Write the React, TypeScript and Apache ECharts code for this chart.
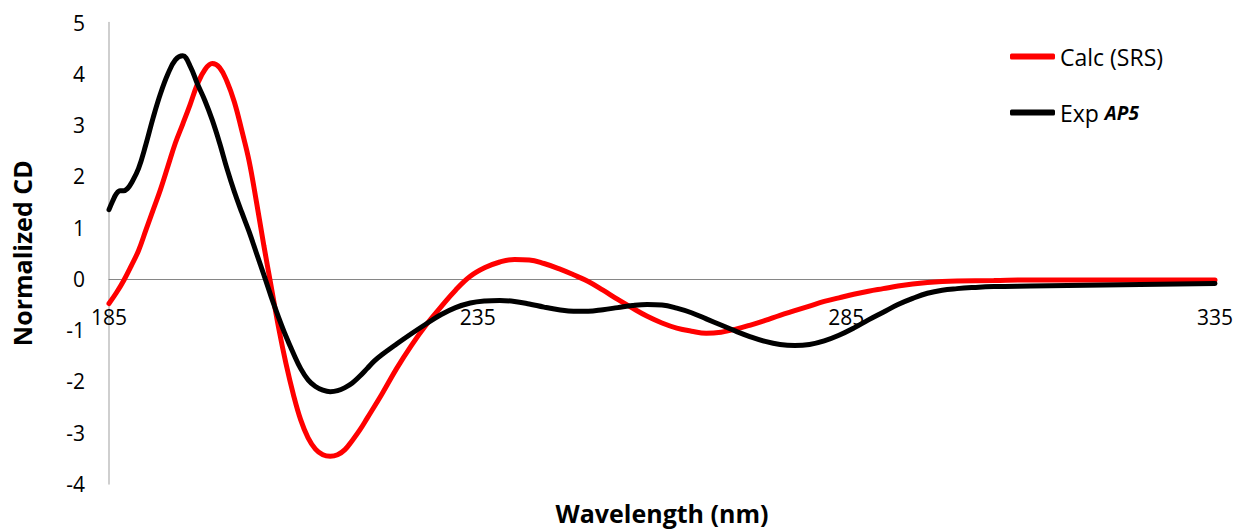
import React, { useEffect, useRef } from "react";
import * as echarts from "echarts";

const calcX = [185, 186, 187, 188, 189, 190, 191, 192, 193, 194, 195, 196, 197, 198, 199, 200, 201, 202, 203, 204, 205, 206, 207, 208, 209, 210, 211, 212, 213, 214, 215, 216, 217, 218, 219, 220, 222, 224, 226, 228, 230, 232, 234, 236, 238, 240, 242, 244, 246, 248, 250, 252, 254, 256, 258, 260, 262, 264, 266, 268, 270, 272, 274, 276, 278, 280, 282, 284, 286, 288, 290, 292, 294, 296, 298, 300, 305, 310, 320, 335];
const calcY = [-0.48, -0.27, -0.03, 0.25, 0.55, 0.95, 1.35, 1.75, 2.2, 2.65, 3.02, 3.4, 3.8, 4.08, 4.2, 4.12, 3.85, 3.45, 2.9, 2.3, 1.5, 0.65, -0.15, -0.95, -1.65, -2.25, -2.75, -3.1, -3.32, -3.43, -3.46, -3.43, -3.33, -3.15, -2.95, -2.72, -2.25, -1.75, -1.3, -0.9, -0.55, -0.22, 0.05, 0.22, 0.33, 0.38, 0.37, 0.3, 0.2, 0.08, -0.05, -0.22, -0.4, -0.57, -0.73, -0.86, -0.96, -1.02, -1.06, -1.04, -0.98, -0.9, -0.81, -0.71, -0.62, -0.53, -0.44, -0.37, -0.3, -0.24, -0.19, -0.14, -0.1, -0.07, -0.05, -0.04, -0.03, -0.02, -0.02, -0.02];

const expX = [185, 185.5, 186, 186.5, 187, 187.5, 188, 189, 190, 191, 192, 193, 194, 195, 196, 197, 198, 199, 200, 201, 202, 203, 204, 205, 206, 207, 208, 209, 210, 211, 212, 213, 214, 215, 216, 217, 218, 219, 220, 221, 222, 224, 226, 228, 230, 232, 234, 236, 238, 240, 242, 244, 246, 248, 250, 252, 254, 256, 258, 260, 262, 264, 266, 268, 270, 272, 274, 276, 278, 280, 282, 284, 286, 288, 290, 292, 294, 296, 298, 300, 302, 305, 310, 320, 335];
const expY = [1.35, 1.52, 1.66, 1.72, 1.72, 1.76, 1.86, 2.15, 2.62, 3.15, 3.62, 4.0, 4.27, 4.35, 4.15, 3.8, 3.48, 3.1, 2.65, 2.15, 1.7, 1.3, 0.92, 0.5, 0.08, -0.35, -0.75, -1.12, -1.45, -1.75, -1.97, -2.1, -2.17, -2.2, -2.18, -2.12, -2.03, -1.9, -1.75, -1.6, -1.48, -1.27, -1.07, -0.88, -0.7, -0.56, -0.47, -0.43, -0.42, -0.44, -0.49, -0.55, -0.6, -0.63, -0.63, -0.6, -0.56, -0.52, -0.5, -0.51, -0.57, -0.66, -0.78, -0.9, -1.02, -1.13, -1.22, -1.28, -1.3, -1.28, -1.21, -1.1, -0.96, -0.8, -0.65, -0.5, -0.38, -0.28, -0.22, -0.19, -0.17, -0.15, -0.14, -0.12, -0.09];

const xTicks = [185, 235, 285, 335];
const yTicks = [-4, -3, -2, -1, 0, 1, 2, 3, 4, 5];

const seriesNames = ["Calc (SRS)", "Exp AP5"];

export default function App() {
  const ref = useRef<HTMLDivElement>(null);
  useEffect(() => {
    if (!ref.current) return;
    const chart = echarts.init(ref.current, null, { renderer: "svg" });
    const font = "'Open Sans', sans-serif";
    chart.setOption({
      animation: false,
      backgroundColor: "#ffffff",
      grid: { left: 109, right: 24, top: 22.5, bottom: 45, containLabel: false, outerBoundsMode: "none" },
      legend: {
        orient: "vertical",
        left: 1010,
        top: 45,
        padding: 0,
        itemGap: 33,
        itemWidth: 45,
        itemHeight: 6,
        icon: "roundRect",
        data: seriesNames,
        formatter: (name: string) => (name === "Exp AP5" ? "Exp {b|AP5}" : name),
        textStyle: {
          fontFamily: font,
          fontSize: 23,
          color: "#000",
          rich: {
            b: { fontFamily: font, fontSize: 19, fontWeight: "bold", fontStyle: "italic", color: "#000" },
          },
        },
      },
      xAxis: {
        type: "value",
        min: xTicks[0],
        max: xTicks[xTicks.length - 1],
        interval: xTicks[1] - xTicks[0],
        name: "Wavelength (nm)",
        nameLocation: "middle",
        nameGap: 16,
        nameTextStyle: { fontFamily: font, fontSize: 25, fontWeight: "bold", color: "#000" },
        axisLine: { onZero: true, lineStyle: { color: "#868686", width: 1 } },
        axisTick: { show: false },
        splitLine: { show: false },
        axisLabel: { fontFamily: font, fontSize: 21, color: "#000", margin: -178, showMinLabel: true, showMaxLabel: true },
      },
      yAxis: {
        type: "value",
        min: yTicks[0],
        max: yTicks[yTicks.length - 1],
        interval: 1,
        name: "Normalized CD",
        nameLocation: "middle",
        nameGap: 75,
        nameRotate: 90,
        nameTextStyle: { fontFamily: font, fontSize: 25, fontWeight: "bold", color: "#000" },
        axisLine: { show: true, lineStyle: { color: "#bfbfbf", width: 1.5 } },
        axisTick: { show: false },
        splitLine: { show: false },
        axisLabel: { fontFamily: font, fontSize: 21, color: "#000", margin: 24 },
      },
      series: [
        {
          name: seriesNames[0],
          type: "line",
          smooth: 0.4,
          showSymbol: false,
          data: calcX.map((x, i) => [x, calcY[i]]),
          lineStyle: { color: "#ff0000", width: 5, cap: "round" },
          itemStyle: { color: "#ff0000" },
        },
        {
          name: seriesNames[1],
          type: "line",
          smooth: 0.4,
          showSymbol: false,
          data: expX.map((x, i) => [x, expY[i]]),
          lineStyle: { color: "#000000", width: 5, cap: "round" },
          itemStyle: { color: "#000000" },
        },
      ],
    });
    return () => chart.dispose();
  }, []);
  return (
    <div
      ref={ref}
      style={{ position: "fixed", left: 0, top: 0, width: 1239, height: 529, background: "#fff" }}
    />
  );
}
